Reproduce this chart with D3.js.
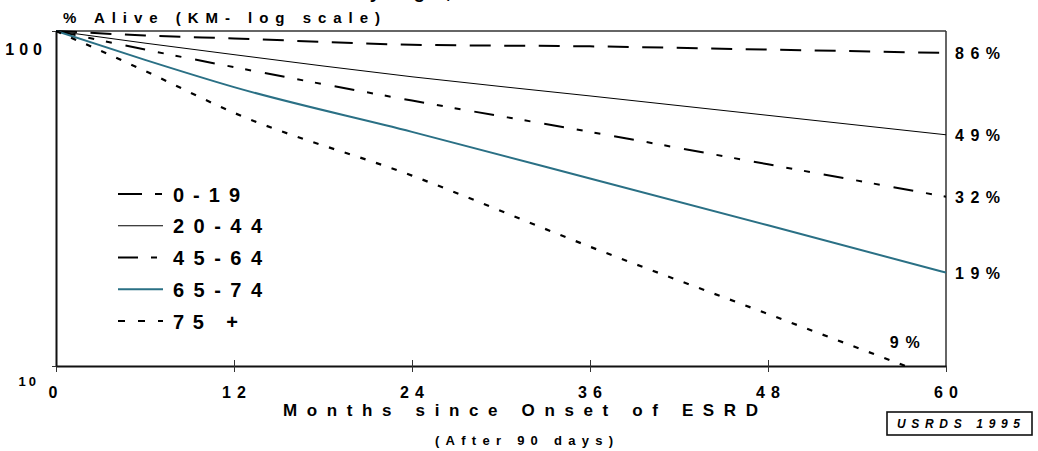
<!DOCTYPE html>
<html lang="en">
<head>
    <meta charset="UTF-8">
    <script src="https://d3js.org/d3.v7.min.js"></script>
    <style>
        body { margin: 0; padding: 0; background: #fff; }
        svg { display: block; }
        svg text { font-family: "Liberation Sans", Arial, sans-serif; font-weight: 700; fill: #000; }
    </style>
</head>
<body>
    <svg id="chart" width="1038" height="451"></svg>

    <script>
        // values (% alive, log scale)
        const months = [0, 6, 12, 24, 36, 48, 60];
        const groups = ["0-19", "20-44", "45-64", "65-74", "75 +"];
        const age0_19 = [100, 97, 95, 91, 90, 88, 86];
        const age20_44 = [100, 92, 85, 73, 64, 56, 49];
        const age45_64 = [100, 88, 78, 62, 50, 40, 32];
        const age65_74 = [100, 82, 68, 50, 36.3, 26.3, 19];
        const age75 = [100, 76, 57, 37, 22.7, 14.3, 9];
        const endLabels = ["86%", "49%", "32%", "19%", "9%"];
        const xTicks = [0, 12, 24, 36, 48, 60];
        const yTicks = [10, 100];

        const seriesValues = [age0_19, age20_44, age45_64, age65_74, age75];
        const styles = [
            { color: "#000", width: 2, dash: "21,13.5" },
            { color: "#000", width: 1, dash: null },
            { color: "#000", width: 2, dash: "20,13,6,12,6,14" },
            { color: "#2a7085", width: 2, dash: null },
            { color: "#000", width: 2.2, dash: "5.5,11" }
        ];

        const svg = d3.select("#chart");
        const margin = { top: 31, right: 92, bottom: 85, left: 56 };
        const W = 1038, H = 451;

        const x = d3.scaleLinear().domain([0, 60]).range([margin.left, W - margin.right]);
        const y = d3.scaleLog().domain([10, 100]).range([H - margin.bottom, margin.top]);

        svg.append("clipPath").attr("id", "plot")
            .append("rect")
            .attr("x", x(0)).attr("y", y(100) - 2)
            .attr("width", x(60) - x(0)).attr("height", y(10) - y(100) + 3);

        // title line, cut off by the top edge as in the original
        svg.append("text")
            .attr("x", 456).attr("y", -2)
            .attr("text-anchor", "end")
            .style("font-size", "19px").style("letter-spacing", "5px")
            .text("Patient Survival by Age,");

        // frame top and right
        svg.append("line")
            .attr("x1", x(0)).attr("x2", x(60)).attr("y1", y(100)).attr("y2", y(100))
            .attr("stroke", "#333").attr("stroke-width", 1.5);
        svg.append("line")
            .attr("x1", x(60)).attr("x2", x(60)).attr("y1", y(100)).attr("y2", y(10))
            .attr("stroke", "#333").attr("stroke-width", 1.5);

        // x axis
        const xAxis = svg.append("g")
            .attr("transform", `translate(0,${y(10)})`)
            .call(d3.axisBottom(x).tickValues(xTicks).tickSize(6).tickSizeOuter(0).tickFormat(""));
        xAxis.select(".domain").attr("stroke", "#111").attr("stroke-width", 2);
        xAxis.selectAll(".tick line").attr("stroke", "#333")
            .attr("y1", d => (d > 0 && d < 60) ? -6 : 0);

        svg.selectAll(".xlab")
            .data(xTicks)
            .enter().append("text")
            .attr("x", d => x(d) + (d === 0 ? 0 : 3))
            .attr("y", y(10) + 32)
            .attr("text-anchor", "middle")
            .style("font-size", "16px").style("letter-spacing", "6px")
            .text(d => d);

        // y axis
        const yAxis = svg.append("g")
            .attr("transform", `translate(${x(0)},0)`)
            .call(d3.axisLeft(y).tickValues(yTicks).tickSize(4).tickSizeOuter(0).tickFormat(""));
        yAxis.select(".domain").attr("stroke", "#111").attr("stroke-width", 2);
        yAxis.selectAll(".tick line").attr("stroke", "#333");

        svg.selectAll(".ylab")
            .data(yTicks)
            .enter().append("text")
            .attr("x", d => d === 100 ? x(0) - 9 : x(0) - 17)
            .attr("y", d => y(d) + (d === 100 ? 24 : 20))
            .attr("text-anchor", "end")
            .style("font-size", d => d === 100 ? "16px" : "13px")
            .style("letter-spacing", d => d === 100 ? "5px" : "3px")
            .text(d => d);

        svg.append("text")
            .attr("x", 63).attr("y", 23)
            .attr("textLength", 317).attr("lengthAdjust", "spacing")
            .style("font-size", "15px")
            .text("% Alive (KM- log scale)");

        // curves
        const line = d3.line()
            .x((d, i) => x(months[i]))
            .y(d => y(d))
            .curve(d3.curveMonotoneX);

        svg.append("g").attr("clip-path", "url(#plot)")
            .selectAll("path")
            .data(seriesValues)
            .enter().append("path")
            .attr("d", d => line(d))
            .attr("fill", "none")
            .attr("stroke", (d, i) => styles[i].color)
            .attr("stroke-width", (d, i) => styles[i].width)
            .attr("stroke-dasharray", (d, i) => styles[i].dash);

        // end labels
        const labelWidths = [45, 45, 45, 45, 30];
        svg.selectAll(".endlab")
            .data(seriesValues)
            .enter().append("text")
            .attr("x", (d, i) => i < 4 ? x(60) + 9 : x(56.2))
            .attr("y", (d, i) => i < 4 ? y(d[d.length - 1]) + 6 : y(11.3))
            .attr("textLength", (d, i) => labelWidths[i]).attr("lengthAdjust", "spacing")
            .style("font-size", "16px")
            .text((d, i) => endLabels[i]);

        // legend
        const legendY = d3.scaleLinear().domain([0, 4]).range([194, 321]);
        const legendWidths = [67, 89, 89, 89, 65];
        const legend = svg.append("g");
        legend.selectAll("line")
            .data(groups)
            .enter().append("line")
            .attr("x1", 118).attr("x2", 163)
            .attr("y1", (d, i) => legendY(i)).attr("y2", (d, i) => legendY(i))
            .attr("stroke", (d, i) => styles[i].color)
            .attr("stroke-width", (d, i) => styles[i].width)
            .attr("stroke-dasharray", (d, i) => i === 0 ? "24,13,7" : (i === 4 ? "7,13" : styles[i].dash));
        legend.selectAll("text")
            .data(groups)
            .enter().append("text")
            .attr("x", 173)
            .attr("y", (d, i) => legendY(i) + 7.5)
            .attr("textLength", (d, i) => legendWidths[i]).attr("lengthAdjust", "spacing")
            .style("font-size", "20px")
            .text(d => d);

        // axis title
        svg.append("text")
            .attr("x", 283).attr("y", 416)
            .attr("textLength", 475).attr("lengthAdjust", "spacing")
            .style("font-size", "17px")
            .text("Months since Onset of ESRD");
        svg.append("text")
            .attr("x", 435).attr("y", 445)
            .attr("textLength", 178).attr("lengthAdjust", "spacing")
            .style("font-size", "13px")
            .text("(After 90 days)");

        // source box
        svg.append("rect")
            .attr("x", 887).attr("y", 412).attr("width", 145).attr("height", 23)
            .attr("fill", "none").attr("stroke", "#111").attr("stroke-width", 1.6);
        svg.append("text")
            .attr("x", 897).attr("y", 428)
            .attr("textLength", 123).attr("lengthAdjust", "spacing")
            .style("font-size", "12px").style("font-style", "italic")
            .text("USRDS 1995");
    </script>
</body>
</html>
